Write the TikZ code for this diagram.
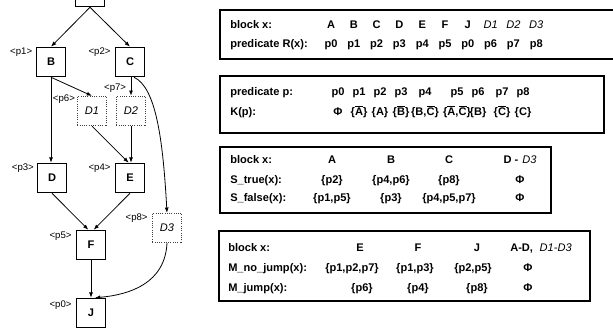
\documentclass[tikz,border=0pt]{standalone}
\usepackage{fontspec}
\setmainfont{Liberation Sans}
\usetikzlibrary{arrows.meta}

% complemented literal, dummy block name
\newcommand{\cmpl}[1]{$\overline{\mbox{#1}}$}
\newcommand{\dmy}[1]{{\mdseries\itshape #1}}

\begin{document}
\begin{tikzpicture}[x=0.75pt,y=-0.75pt,>={Latex[length=4pt,width=3pt]},
    blk/.style={draw,line width=0.9pt,minimum size=22pt,inner sep=0pt,font=\bfseries\fontsize{8.3}{10}\selectfont},
    dum/.style={draw=black!75,densely dotted,line width=0.7pt,minimum size=22pt,inner sep=0pt,font=\itshape\fontsize{8.3}{10}\selectfont},
    pl/.style={anchor=east,inner sep=0.5pt,font=\fontsize{7.2}{9}\selectfont},
    flow/.style={->,line width=0.6pt},
    tab/.style={line width=1pt},
    cell/.style={anchor=mid,inner sep=0pt,font=\bfseries\fontsize{8.3}{10}\selectfont},
    head/.style={cell,anchor=mid west}]
    \useasboundingbox (0,0) rectangle (613,332);

    % control flow graph, entry block sits above the frame
    \node[blk] (A) at (90,-8) {};
    \node[blk] (B) at (51,62) {B};
    \node[blk] (C) at (130,62) {C};
    \node[dum] (D1) at (92,111) {D1};
    \node[dum] (D2) at (131,111) {D2};
    \node[blk] (D) at (52,178) {D};
    \node[blk] (E) at (130,178) {E};
    \node[dum] (D3) at (167,228) {D3};
    \node[blk] (F) at (91,245) {F};
    \node[blk] (J) at (91,313) {J};

    % predicates guarding the blocks
    \node[pl] (p1) at ([shift={(-2pt,-3.8pt)}]B.north west) {<p1>};
    \node[pl] (p2) at ([shift={(-2.5pt,-3.8pt)}]C.north west) {<p2>};
    \node[pl] (p6) at ([shift={(-0.8pt,-2.2pt)}]D1.north west) {<p6>};
    \node[pl] (p7) at ([shift={(-3pt,6pt)}]D2.north) {<p7>};
    \node[pl] (p3) at ([shift={(-1.5pt,-3.8pt)}]D.north west) {<p3>};
    \node[pl] (p4) at ([shift={(-2.5pt,-3.8pt)}]E.north west) {<p4>};
    \node[pl] (p8) at ([shift={(-2.5pt,-3.8pt)}]D3.north west) {<p8>};
    \node[pl] (p5) at ([shift={(-2.5pt,-4.5pt)}]F.north west) {<p5>};
    \node[pl] (p0) at ([shift={(-2.5pt,-5.2pt)}]J.north west) {<p0>};

    \draw[flow] (A.south) -- (B.north);
    \draw[flow] (A.south) -- (C.north);
    \draw[flow] (B.south) -- (D1.north);
    \draw[flow] (B.south) -- (B.south |- D.north);
    \draw[flow] (D2.north |- C.south) -- (D2.north);
    \draw[flow] ([xshift=3pt]C.south) .. controls +(22,10) and +(-4,-73) .. (D3.north);
    \draw[flow] (D1.south) -- ([xshift=-1pt]E.north);
    \draw[flow] (D2.south) -- (D2.south |- E.north);
    \draw[flow] (D.south) -- ([xshift=-2pt]F.north);
    \draw[flow] (E.south) -- ([xshift=2pt]F.north);
    \draw[flow] (F.south) -- (J.north);
    \draw[flow] (D3.south) .. controls +(-2,40) and +(35,-3) .. ([xshift=3pt]J.north);

    % R(x)
    \draw[tab] (220,10) rectangle (625,59);
    \node[head] (h1) at (230,25) {block x:};
    \node[head] (h2) at (230,44) {predicate R(x):};
    \foreach \b/\p [count=\i from 0] in {A/p0,B/p1,C/p2,D/p3,E/p4,F/p5,J/p0,\dmy{D1}/p6,\dmy{D2}/p7,\dmy{D3}/p8}
    {
        \node[cell] (b\i) at (331+22.8*\i,25) {\b};
        \node[cell] (r\i) at (331+22.8*\i,44) {\p};
    }

    % K(p)
    \draw[tab] (220,76) rectangle (604,133);
    \node[head] (h3) at (230,92) {predicate p:};
    \node[head] (h4) at (230,112) {K(p):};
    \foreach \x/\p/\k [count=\i] in {338/p0/Φ, 359/p1/{\{\cmpl{A}\}}, 380/p2/{\{A\}}, 401/p3/{\{\cmpl{B}\}},
        425/p4/{\{B,\cmpl{C}\}}, 457/p5/{\{\cmpl{A},\cmpl{C}\}}, 478/p6/{\{B\}}, 502/p7/{\{\cmpl{C}\}}, 523/p8/{\{C\}}}
    {
        \node[cell] (q\i) at (\x,92) {\p};
        \node[cell] (k\i) at (\x,112) {\k};
    }

    % S_true, S_false
    \draw[tab] (220,147) rectangle (551,213);
    \node[head] (h5) at (230,160) {block x:};
    \node[head] (h6) at (230,180) {S\_true(x):};
    \node[head] (h7) at (230,198) {S\_false(x):};
    \foreach \x/\b/\t/\f [count=\i] in {332/A/{\{p2\}}/{\{p1,p5\}}, 391/B/{\{p4,p6\}}/{\{p3\}},
        449/C/{\{p8\}}/{\{p4,p5,p7\}}, 520/{D -\hspace{3pt}\dmy{D3}}/Φ/Φ}
    {
        \node[cell] (s\i) at (\x,160) {\b};
        \node[cell] (t\i) at (\x,180) {\t};
        \node[cell] (f\i) at (\x,198) {\f};
    }

    % M_no_jump, M_jump
    \draw[tab] (219,231) rectangle (590,301);
    \node[head] (h8) at (228,248) {block x:};
    \node[head] (h9) at (228,268) {M\_no\_jump(x):};
    \node[head] (h10) at (228,288) {M\_jump(x):};
    \foreach \x/\b in {360/E, 418/F, 477/J, 541/{A-D,\hspace{5pt}\dmy{D1-D3}}}
        \node[cell] (m\x) at (\x,248) {\b};
    \foreach \x/\n in {352/{\{p1,p2,p7\}}, 415/{\{p1,p3\}}, 473/{\{p2,p5\}}, 528/Φ}
        \node[cell] (n\x) at (\x,268) {\n};
    \foreach \x/\j in {362/{\{p6\}}, 418/{\{p4\}}, 477/{\{p8\}}, 528/Φ}
        \node[cell] (j\x) at (\x,288) {\j};
\end{tikzpicture}
\end{document}
